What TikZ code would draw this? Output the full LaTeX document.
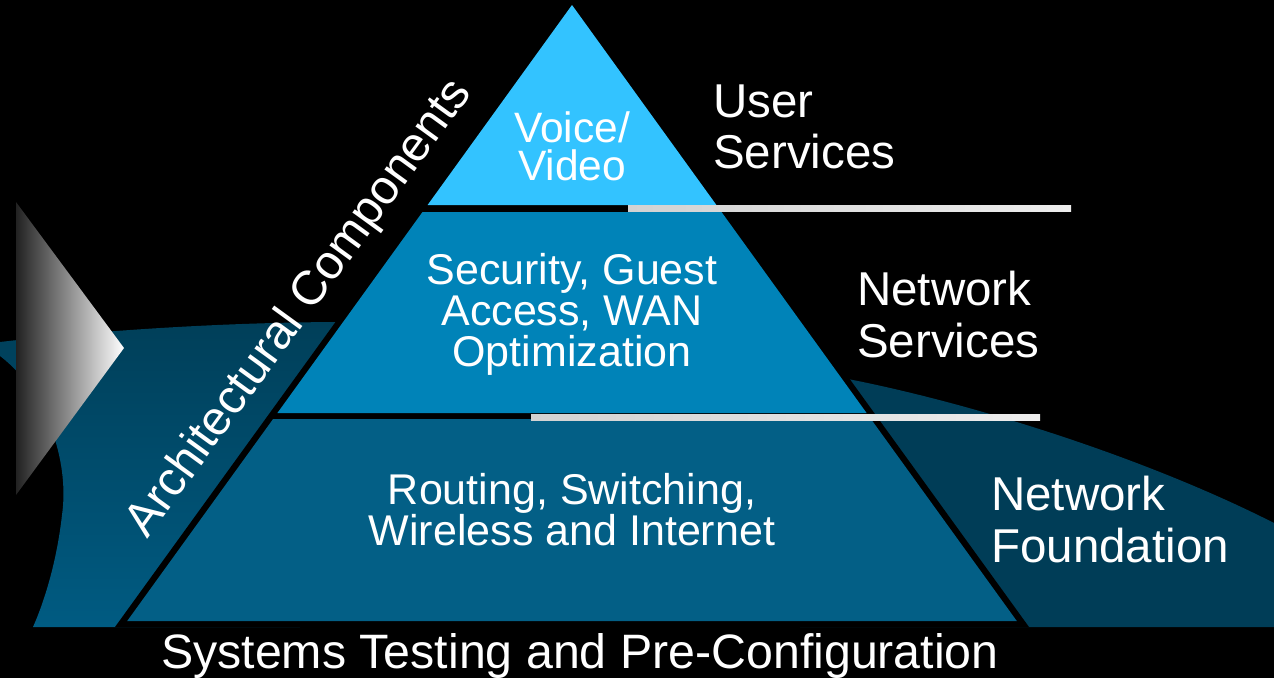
\documentclass[tikz,border=0pt]{standalone}
\usepackage{fontspec}
\setmainfont{Liberation Sans}
\definecolor{topc}{HTML}{33C3FF}
\definecolor{midc}{HTML}{0083B8}
\definecolor{botc}{HTML}{035F86}
\definecolor{swD}{HTML}{003F59}
\definecolor{swL}{HTML}{005B82}
\definecolor{swR}{HTML}{003D57}
\definecolor{tridark}{HTML}{222222}
\definecolor{lineA}{HTML}{D2D2D2}
\definecolor{lineB}{HTML}{EDEDED}
\begin{document}
\begin{tikzpicture}[x=1pt,y=-1pt,
  lbl/.style={text=white,inner sep=0pt,font=\fontsize{47.5}{50}\selectfont},
  pyr/.style={text=white,inner sep=0pt,font=\fontsize{43}{43}\selectfont}]
\fill[black] (0,0) rectangle (1274,678);
\useasboundingbox (0,0) rectangle (1274,678);
% swooshes
\shade[top color=swD, bottom color=swL]
  (0,342) .. controls (120,328) and (250,322) .. (345,322) -- (450,322) -- (300,627)
  -- (33,627) .. controls (45,600) and (57,560) .. (62,515)
  .. controls (70,460) and (45,390) .. (0,356) -- cycle;
\fill[swR] (848,379) .. controls (980,405) and (1150,460) .. (1274,523)
  -- (1274,627) -- (800,627) -- (700,380) -- cycle;
% grey gradient triangle
\shade[left color=tridark, right color=white] (16,202) -- (124,348) -- (16,495) -- cycle;
% black pyramid outline
\fill[black] (572,-5) -- (1029,627) -- (115,627) -- cycle;
% layers
\fill[topc] (572,5) -- (716.4,205) -- (427.6,205) -- cycle;
\fill[midc] (422.5,212) -- (721.5,212) -- (866.6,413) -- (277.4,413) -- cycle;
\fill[botc] (273.1,419) -- (870.9,419) -- (1016.8,621) -- (127.2,621) -- cycle;
% separator lines
\shade[left color=lineA, right color=lineB] (628,205) rectangle (1071,211);
\shade[left color=lineA, right color=lineB] (531,414) rectangle (1040,420);
% pyramid texts
\node[pyr, font=\fontsize{42.5}{42}\selectfont, anchor=base] (vv1) at (572,142) {Voice/};
\node[pyr, font=\fontsize{42.5}{42}\selectfont, anchor=base] (vv2) at (572,180) {Video};
\node[pyr, anchor=base] (sg1) at (572,284) {Security, Guest};
\node[pyr, anchor=base] (sg2) at (572,325) {Access, WAN};
\node[pyr, anchor=base] (sg3) at (572,366) {Optimization};
\node[pyr, anchor=base] (rs1) at (572,504) {Routing, Switching,};
\node[pyr, anchor=base] (rs2) at (572,545) {Wireless and Internet};
% side labels
\node[lbl, anchor=base west] (us1) at (713,117) {User};
\node[lbl, anchor=base west] (us2) at (713,168) {Services};
\node[lbl, anchor=base west] (ns1) at (857,305) {Network};
\node[lbl, anchor=base west] (ns2) at (857,357) {Services};
\node[lbl, anchor=base west] (nf1) at (991,510) {Network};
\node[lbl, anchor=base west] (nf2) at (991,562) {Foundation};
\node[lbl, font=\fontsize{48.3}{50}\selectfont, anchor=base] (sys) at (580,668) {Systems Testing and Pre-Configuration};
\node[lbl, font=\fontsize{48}{50}\selectfont, anchor=base, rotate=54] (arch) at (310,316) {Architectural Components};
\end{tikzpicture}
\end{document}
